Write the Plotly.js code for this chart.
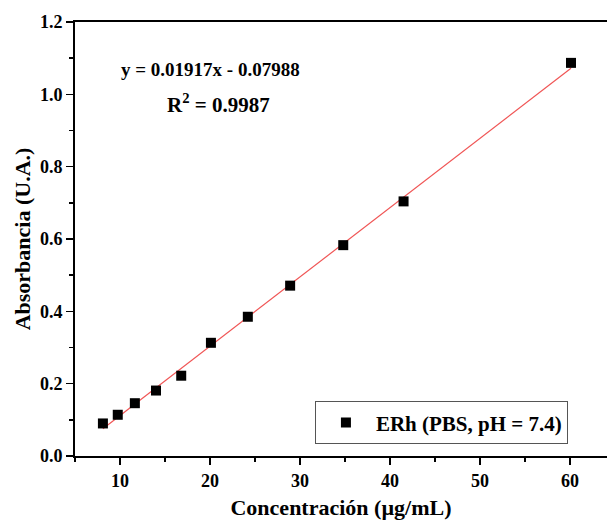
<!DOCTYPE html>
<html>
<head>
<meta charset="utf-8">
<script src="https://cdn.plot.ly/plotly-3.0.1.min.js"></script>
<style>html,body{margin:0;padding:0;background:#fff}#chart{width:607px;height:525px}</style>
</head>
<body>
<div id="chart"></div>
<script>
// Data
const concentration = [8.1, 9.75, 11.65, 14.0, 16.8, 20.1, 24.2, 28.9, 34.8, 41.5, 60.1];
const absorbance    = [0.090, 0.114, 0.146, 0.181, 0.222, 0.313, 0.385, 0.471, 0.583, 0.704, 1.087];
const slope = 0.01917;
const intercept = -0.07988;
const r2 = 0.9987;
const seriesName = "ERh (PBS, pH = 7.4)";
const xTitle = "Concentración (µg/mL)";
const yTitle = "Absorbancia (U.A.)";

const fitX = [Math.min(...concentration), Math.max(...concentration)];
const fitY = fitX.map(x => slope * x + intercept);

const FONT = "Liberation Serif, Times New Roman, serif";

const traces = [
  {
    x: fitX, y: fitY, mode: "lines", type: "scatter",
    line: {color: "#f05555", width: 1.2}, showlegend: false, hoverinfo: "skip"
  },
  {
    x: concentration, y: absorbance, mode: "markers", type: "scatter",
    name: seriesName,
    marker: {symbol: "square", size: 10, color: "#000", line: {width: 0}}
  }
];

const layout = {
  width: 607, height: 525,
  margin: {l: 75, r: 0, t: 22, b: 69},
  paper_bgcolor: "#fff", plot_bgcolor: "#fff",
  font: {family: FONT, color: "#000"},
  xaxis: {
    range: [5, 64.1], tickvals: [10, 20, 30, 40, 50, 60],
    showgrid: false, zeroline: false,
    showline: true, linecolor: "#000", linewidth: 2, mirror: true,
    ticks: "outside", ticklen: 7, tickwidth: 1.5, tickcolor: "#000",
    minor: {dtick: 5, ticks: "outside", ticklen: 4, tickwidth: 1.5, tickcolor: "#000", showgrid: false},
    tickfont: {family: FONT, size: 18, weight: "bold", color: "#000"},
    title: {text: xTitle, font: {family: FONT, size: 22, weight: "bold", color: "#000"}, standoff: 10}
  },
  yaxis: {
    range: [0, 1.2], dtick: 0.2, tickformat: ".1f",
    showgrid: false, zeroline: false,
    showline: true, linecolor: "#000", linewidth: 2, mirror: false,
    ticks: "outside", ticklen: 7, tickwidth: 1.5, tickcolor: "#000",
    minor: {dtick: 0.1, ticks: "outside", ticklen: 4, tickwidth: 1.5, tickcolor: "#000", showgrid: false},
    tickfont: {family: FONT, size: 18, weight: "bold", color: "#000"},
    title: {text: yTitle, font: {family: FONT, size: 22, weight: "bold", color: "#000"}, standoff: 3}
  },
  legend: {
    x: 0.451, y: 0.126, xanchor: "left", yanchor: "top",
    bordercolor: "#555", borderwidth: 1, bgcolor: "#fff",
    font: {family: FONT, size: 21, weight: "bold", color: "#000"},
    itemwidth: 50
  },
  annotations: [
    {x: 20, y: 1.07, xref: "x", yref: "y", showarrow: false,
     text: "y = " + slope.toFixed(5) + "x - " + Math.abs(intercept).toFixed(5),
     font: {family: FONT, size: 19, weight: "bold", color: "#000"}},
    {x: 20.9, y: 0.976, xref: "x", yref: "y", showarrow: false,
     text: "R<sup>2</sup> = " + r2.toFixed(4),
     font: {family: FONT, size: 21, weight: "bold", color: "#000"}}
  ]
};

Plotly.newPlot("chart", traces, layout, {displayModeBar: false, staticPlot: true});
</script>
</body>
</html>
